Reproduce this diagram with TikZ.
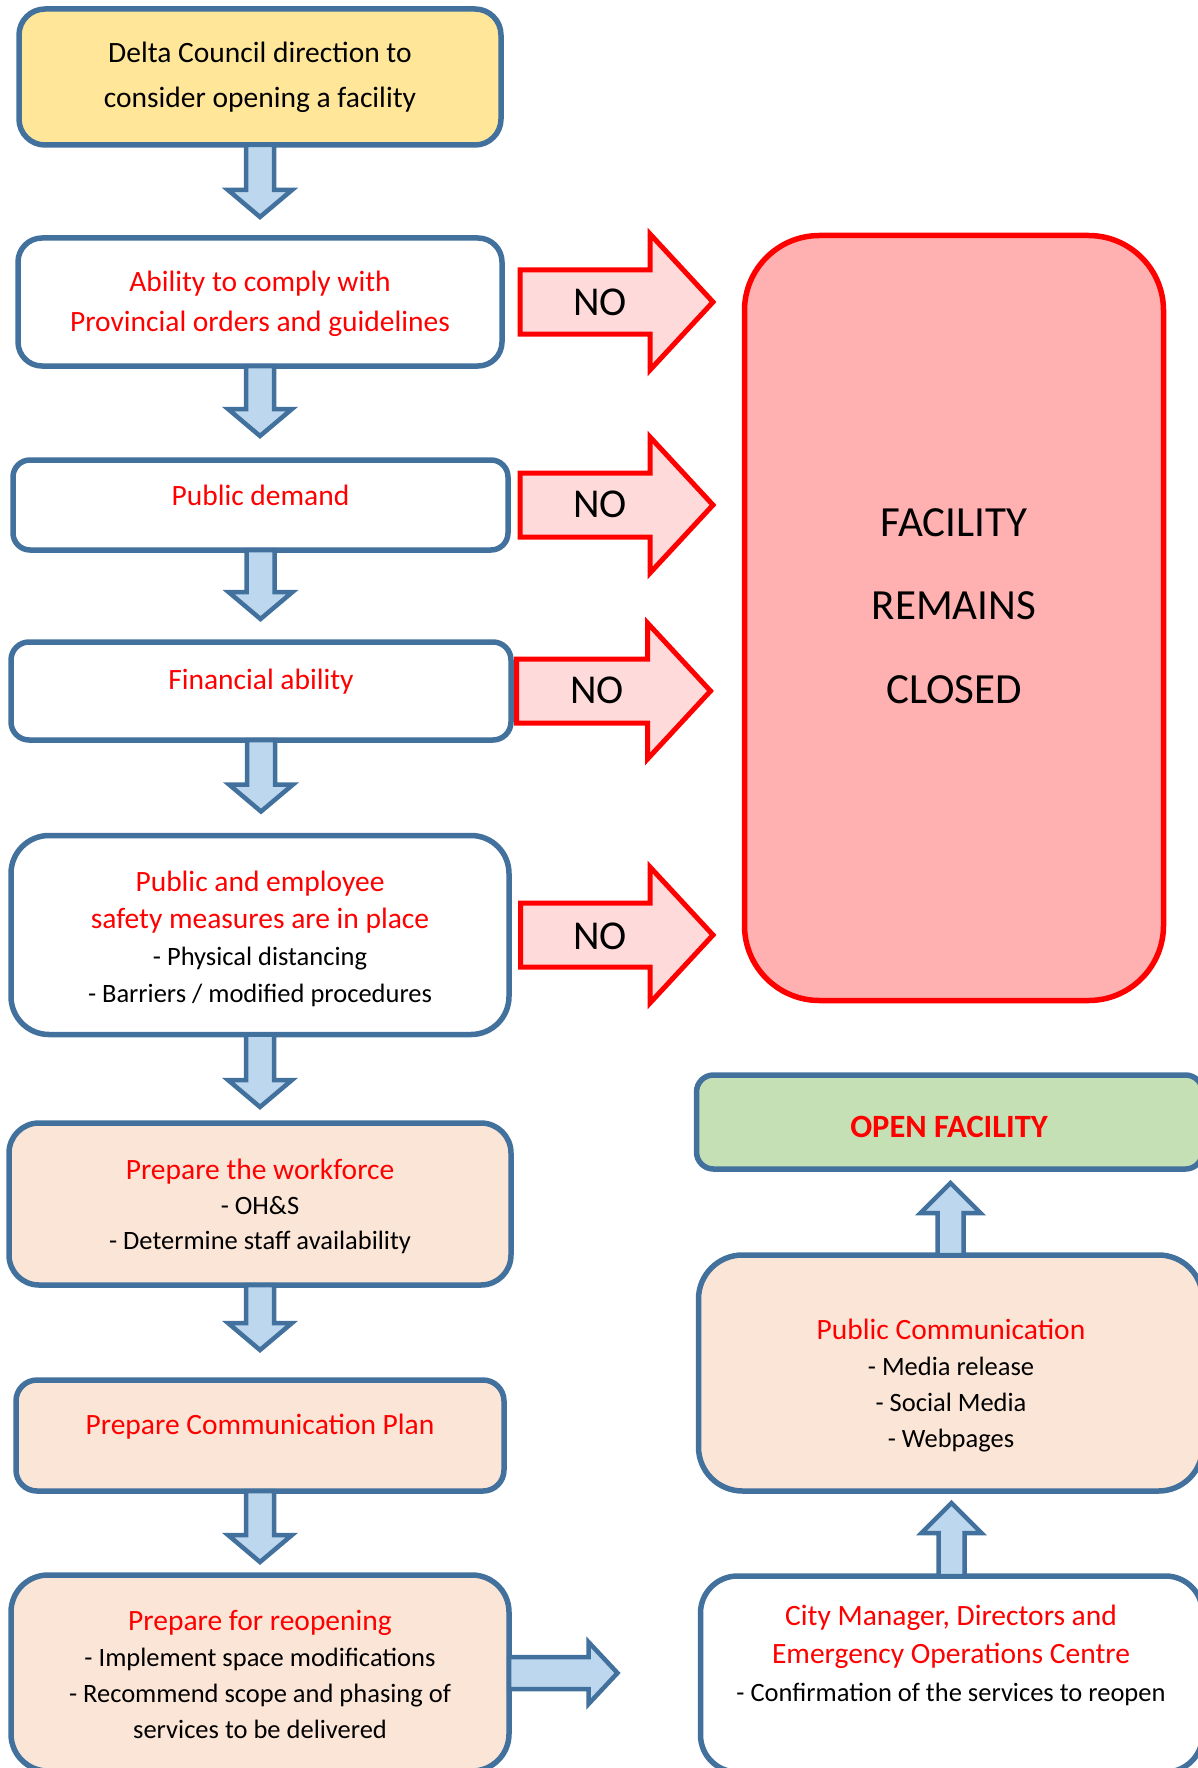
\documentclass[tikz,border=0pt]{standalone}
\usepackage{fontspec}
\setmainfont{Carlito}
\usetikzlibrary{calc}
\definecolor{boxblue}{HTML}{41719C}
\definecolor{afill}{HTML}{BDD7EE}
\definecolor{yel}{HTML}{FFE699}
\definecolor{peach}{HTML}{FBE5D6}
\definecolor{grn}{HTML}{C5E0B4}
\definecolor{closedfill}{HTML}{FFB1B1}
\definecolor{nofill}{HTML}{FFDADA}
\definecolor{myred}{HTML}{FF0000}
\tikzset{
  box/.style={draw=boxblue, line width=5.5pt, inner sep=0pt, outer sep=0pt, fill=white},
  txt/.style={align=center, inner sep=0pt, outer sep=0pt},
  barrow/.style={draw=boxblue, fill=afill, line width=4.5pt, line join=miter},
  noarrow/.style={draw=myred, fill=nofill, line width=5pt, line join=miter},
}
\newcommand\ArrDown[2]{%
  \draw[barrow] let \p1=(#1), \p2=(#2) in
    (\x1-14pt,\y1) -- (\x1+14pt,\y1) -- (\x1+14pt,\y2+27pt) -- (\x1+32pt,\y2+27pt)
    -- (\x1,\y2) -- (\x1-32pt,\y2+27pt) -- (\x1-14pt,\y2+27pt) -- cycle;}
\newcommand\ArrUp[2]{%
  \draw[barrow] let \p1=(#1), \p2=(#2) in
    (\x1-13pt,\y1) -- (\x1+13pt,\y1) -- (\x1+13pt,\y2-30pt) -- (\x1+30pt,\y2-30pt)
    -- (\x1,\y2) -- (\x1-30pt,\y2-30pt) -- (\x1-13pt,\y2-30pt) -- cycle;}
\newcommand\ArrRight[2]{%
  \draw[barrow] let \p1=(#1), \p2=(#2) in
    (\x1,\y1+16pt) -- (\x2-29pt,\y1+16pt) -- (\x2-29pt,\y1+31pt) -- (\x2,\y1)
    -- (\x2-29pt,\y1-31pt) -- (\x2-29pt,\y1-16pt) -- (\x1,\y1-16pt) -- cycle;}
\newcommand\ArrNo[2]{%
  \draw[noarrow] let \p1=(#1), \p2=(#2) in
    (\x1,\y2+32pt) -- (\x2-63pt,\y2+32pt) -- (\x2-63pt,\y2+68pt) -- (\x2,\y2)
    -- (\x2-63pt,\y2-68pt) -- (\x2-63pt,\y2-32pt) -- (\x1,\y2-32pt) -- cycle;}
\newcommand\Ttl{\fontsize{29.5}{39}\selectfont}
\newcommand\Itm{\fontsize{26.5}{36}\selectfont}
\begin{document}
\begin{tikzpicture}[x=1pt, y=-1pt]
\useasboundingbox (0,0) rectangle (1198,1768);
% right-side boxes
\node[draw=myred, line width=5.5pt, fill=closedfill, inner sep=0pt, outer sep=0pt,
      minimum width=419pt, minimum height=765pt, rounded corners=75pt] (closed) at (954,618) {};
\node[box, fill=grn, minimum width=506pt, minimum height=94pt, rounded corners=17pt] (open) at (949.5,1122) {};
\node[box, fill=peach, minimum width=504pt, minimum height=236pt, rounded corners=44pt] (pubcomm) at (950.5,1373) {};
\node[box, minimum width=502pt, minimum height=196pt, rounded corners=37pt] (citymgr) at (951.5,1674) {};
% left boxes
\node[box, fill=yel, minimum width=482pt, minimum height=136pt, rounded corners=26pt] (b1) at (260,77) {};
\node[box, minimum width=484pt, minimum height=128pt, rounded corners=24pt] (b2) at (260,302) {};
\node[box, minimum width=495pt, minimum height=90pt, rounded corners=17pt] (b3) at (260.5,505) {};
\node[box, minimum width=500pt, minimum height=98pt, rounded corners=18pt] (b4) at (261,691) {};
\node[box, minimum width=498pt, minimum height=199pt, rounded corners=38pt] (b5) at (260,935) {};
\node[box, fill=peach, minimum width=502pt, minimum height=162pt, rounded corners=30pt] (b6) at (260,1204) {};
\node[box, fill=peach, minimum width=488pt, minimum height=111pt, rounded corners=21pt] (b7) at (260,1435.5) {};
\node[box, fill=peach, minimum width=498pt, minimum height=196pt, rounded corners=37pt] (b8) at (260,1673) {};
% texts
\node[txt, font=\fontsize{29.5}{45}\selectfont] (t1) at (260,77.5) {Delta Council direction to\\consider opening a facility};
\node[txt, text=myred, font=\fontsize{29.5}{39.5}\selectfont] (t2) at (260,304) {Ability to comply with\\Provincial orders and guidelines};
\node[txt, text=myred, font=\Ttl] (t3) at (260.5,495.5) {Public demand};
\node[txt, text=myred, font=\Ttl] (t4) at (261,682) {Financial ability};
\node[txt, font=\fontsize{29.5}{37}\selectfont] (t5) at (260,938.5)
  {\textcolor{myred}{Public and employee}\\\textcolor{myred}{safety measures are in place}\\{\Itm - Physical distancing}\\{\Itm - Barriers / modified procedures}};
\node[txt, font=\fontsize{29.5}{35}\selectfont] (t6) at (260,1206)
  {\textcolor{myred}{Prepare the workforce}\\{\Itm - OH\&S}\\{\Itm - Determine staff availability}};
\node[txt, text=myred, font=\Ttl] (t7) at (260,1427) {Prepare Communication Plan};
\node[txt, font=\fontsize{29.5}{36}\selectfont] (t8) at (260,1674)
  {\textcolor{myred}{Prepare for reopening}\\{\Itm - Implement space modifications}\\{\Itm - Recommend scope and phasing of}\\{\Itm services to be delivered}};
\node[txt, font=\fontsize{29.5}{36}\selectfont] (tpc) at (951,1385.5)
  {\textcolor{myred}{Public Communication}\\{\Itm - Media release}\\{\Itm - Social Media}\\{\Itm - Webpages}};
\node[txt, font=\fontsize{29.5}{38}\selectfont] (tcm) at (951,1655)
  {\textcolor{myred}{City Manager, Directors and}\\\textcolor{myred}{Emergency Operations Centre}\\{\Itm - Confirmation of the services to reopen}};
\node[txt, text=myred, font=\fontsize{32.5}{36}\selectfont\bfseries] (topen) at (949,1127) {OPEN FACILITY};
\node[txt, font=\fontsize{43}{83.5}\selectfont] (tclosed) at (954,606) {FACILITY\\REMAINS\\CLOSED};
% down arrows
\ArrDown{b1.south}{$(b2.north)+(0,-21)$}
\ArrDown{b2.south}{$(b3.north)+(0,-24)$}
\ArrDown{b3.south}{$(b4.north)+(0,-23)$}
\ArrDown{b4.south}{$(b5.north)+(0,-24)$}
\ArrDown{b5.south}{$(b6.north)+(0,-16)$}
\ArrDown{b6.south}{$(b7.north)+(0,-30)$}
\ArrDown{b7.south}{$(b8.north)+(0,-13)$}
% right arrow and up arrows
\ArrRight{b8.east}{$(citymgr.west |- b8.east)+(-83,0)$}
\ArrUp{citymgr.north}{$(pubcomm.south)+(0,12)$}
\ArrUp{pubcomm.north}{$(open.south)+(0,14)$}
% NO arrows
\ArrNo{$(b2.east)+(18,0)$}{$(closed.west |- b2.east)+(-31.5,0)$}
\ArrNo{$(b3.east)+(12,0)$}{$(closed.west |- b3.east)+(-31.5,0)$}
\ArrNo{$(b4.east)+(5.5,0)$}{$(closed.west |- b4.east)+(-34,0)$}
\ArrNo{$(b5.east)+(11.5,0)$}{$(closed.west |- b5.east)+(-31.5,0)$}
\node[txt, font=\fontsize{41}{48}\selectfont] (no1) at (600,302) {NO};
\node[txt, font=\fontsize{41}{48}\selectfont] (no2) at (600,504) {NO};
\node[txt, font=\fontsize{41}{48}\selectfont] (no3) at (597,690) {NO};
\node[txt, font=\fontsize{41}{48}\selectfont] (no4) at (600,936) {NO};
\end{tikzpicture}
\end{document}
